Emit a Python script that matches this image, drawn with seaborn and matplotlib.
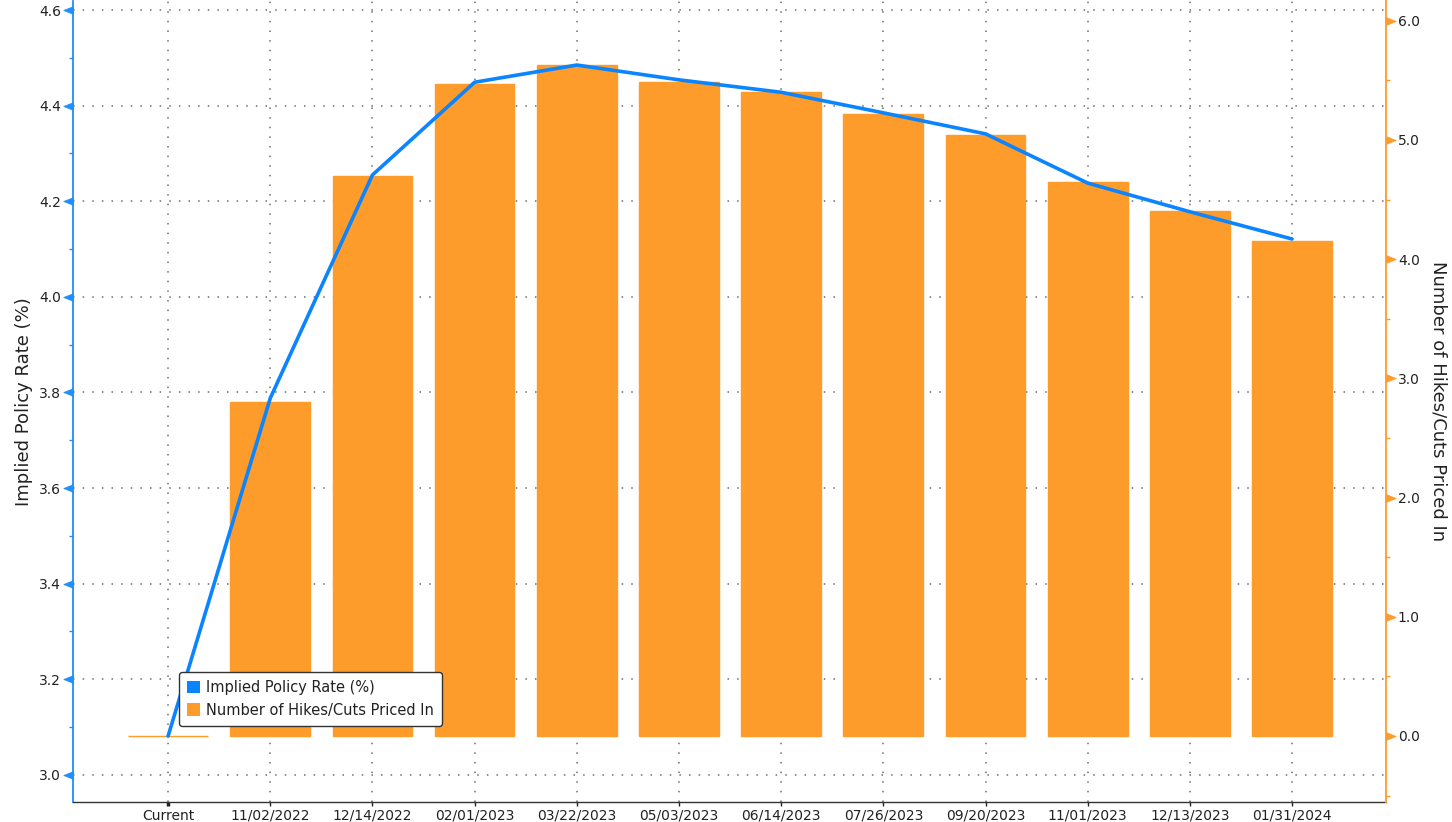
import matplotlib
matplotlib.use('Agg')

import seaborn as sns

from matplotlib import pyplot as plt
from matplotlib.markers import MarkerStyle
from matplotlib.patches import Patch
from matplotlib.path import Path
from matplotlib.ticker import MultipleLocator, FormatStrFormatter

# meeting dates (x categories)
DATES = ['Current', '11/02/2022', '12/14/2022', '02/01/2023', '03/22/2023', '05/03/2023',
         '06/14/2023', '07/26/2023', '09/20/2023', '11/01/2023', '12/13/2023', '01/31/2024']

# implied policy rate (%), left axis
RATE = [3.081, 3.788, 4.255, 4.449, 4.485, 4.454, 4.428, 4.385, 4.341, 4.238, 4.178, 4.121]

# number of hikes/cuts priced in, right axis
HIKES = [0.0, 2.80, 4.70, 5.47, 5.63, 5.49, 5.40, 5.22, 5.04, 4.65, 4.40, 4.15]

RATE_LABEL = 'Implied Policy Rate (%)'
HIKES_LABEL = 'Number of Hikes/Cuts Priced In'

BLUE = '#0B84FF'
BLUE_AXIS = '#1E8FFF'
ORANGE = '#FD9B2B'
TEXT = '#222222'

# triangular tick markers with their base sitting on the spine
ARROW_LEFT = MarkerStyle(Path([(0, 0.4), (-1, 0), (0, -0.4), (0, 0.4)], closed=True))
ARROW_RIGHT = MarkerStyle(Path([(0, 0.4), (1, 0), (0, -0.4), (0, 0.4)], closed=True))


def main():
    sns.set_style('white')
    plt.rcParams['font.family'] = ['DejaVu Sans']

    fig = plt.figure(figsize=(14.52, 8.22), dpi=100)
    rect = [0.0501, 0.0243, 0.9045, 0.9745]

    # bottom axes: left scale + grid
    ax = fig.add_axes(rect)
    # middle axes: bars on right scale
    ax_bar = ax.twinx()
    # top axes: the line on the left scale
    ax_line = fig.add_axes(rect, sharex=ax, sharey=ax)

    sns.barplot(x=DATES, y=HIKES, ax=ax_bar, color=ORANGE, saturation=1, width=0.78,
                edgecolor=ORANGE, linewidth=1, errorbar=None)
    sns.lineplot(x=DATES, y=RATE, ax=ax_line, color=BLUE, linewidth=2.6, sort=False)

    ax.set_xlim(-0.933, 11.92)
    ax.set_ylim(2.943, 4.619)
    ax_bar.set_ylim(-0.554, 6.166)

    ax_line.axis('off')
    ax_line.patch.set_visible(False)
    ax_bar.patch.set_visible(False)

    ######################
    ## LEFT AXIS (RATE) ##
    ######################

    ax.yaxis.set_major_locator(MultipleLocator(0.2))
    ax.yaxis.set_minor_locator(MultipleLocator(0.1))
    ax.yaxis.set_major_formatter(FormatStrFormatter('%.1f'))
    ax.tick_params(axis='y', which='major', length=7.5, width=1, pad=1, color=BLUE_AXIS,
                   labelcolor=TEXT, labelsize=10, left=True)
    ax.tick_params(axis='y', which='minor', length=3, width=1, color=BLUE_AXIS, left=True)
    for t in ax.yaxis.get_major_ticks():
        t.tick1line.set_marker(ARROW_LEFT)
        t.tick1line.set_markersize(14)
        t.tick1line.set_markerfacecolor(BLUE_AXIS)
        t.tick1line.set_markeredgecolor(BLUE_AXIS)
        t.tick1line.set_markeredgewidth(0.5)
    ax.set_ylabel(RATE_LABEL, fontsize=13, color=TEXT, labelpad=4)

    ########################
    ## RIGHT AXIS (HIKES) ##
    ########################

    ax_bar.yaxis.set_major_locator(MultipleLocator(1.0))
    ax_bar.yaxis.set_minor_locator(MultipleLocator(0.5))
    ax_bar.yaxis.set_major_formatter(FormatStrFormatter('%.1f'))
    ax_bar.tick_params(axis='y', which='major', length=7.5, width=1, pad=1, color=ORANGE,
                       labelcolor=TEXT, labelsize=10, right=True)
    ax_bar.tick_params(axis='y', which='minor', length=3, width=1, color=ORANGE, right=True)
    for t in ax_bar.yaxis.get_major_ticks():
        t.tick2line.set_marker(ARROW_RIGHT)
        t.tick2line.set_markersize(14)
        t.tick2line.set_markerfacecolor(ORANGE)
        t.tick2line.set_markeredgecolor(ORANGE)
        t.tick2line.set_markeredgewidth(0.5)
    ax_bar.set_ylabel(HIKES_LABEL, fontsize=13, color=TEXT, rotation=270, va='bottom',
                      labelpad=7)

    ############
    ## X AXIS ##
    ############

    ax.tick_params(axis='x', length=3, width=1, color=TEXT, labelcolor=TEXT, labelsize=10,
                   pad=2, bottom=True)
    ax.xaxis.get_major_ticks()[0].tick1line.set_markeredgewidth(2.5)

    ###########
    ## GRID  ##
    ###########

    ax.grid(True, which='major', axis='both', color='#6E6E6E', linewidth=1.1,
            linestyle=(0, (1, 5.3)))
    ax_bar.grid(False)

    # spines
    for a in (ax, ax_bar):
        a.spines['top'].set_visible(False)
    ax.spines['right'].set_visible(False)
    ax.spines['left'].set_color(BLUE_AXIS)
    ax.spines['left'].set_linewidth(1.3)
    ax.spines['bottom'].set_color('#333333')
    ax.spines['bottom'].set_linewidth(1)
    ax_bar.spines['left'].set_visible(False)
    ax_bar.spines['bottom'].set_visible(False)
    ax_bar.spines['right'].set_color(ORANGE)
    ax_bar.spines['right'].set_linewidth(1.3)

    ############
    ## LEGEND ##
    ############

    handles = [Patch(facecolor=BLUE, edgecolor='none'),
               Patch(facecolor=ORANGE, edgecolor='none')]
    leg = ax_line.legend(handles, [RATE_LABEL, HIKES_LABEL], loc='upper left',
                         bbox_to_anchor=(0.081, 0.162), borderaxespad=0, fontsize=10.5,
                         handlelength=0.9, handleheight=0.9, handletextpad=0.4,
                         labelspacing=0.5, borderpad=0.55, frameon=True, fancybox=True,
                         framealpha=1)
    leg.get_frame().set_edgecolor('#333333')
    leg.get_frame().set_linewidth(1)
    for txt in leg.get_texts():
        txt.set_color(TEXT)

    fig.savefig('out.png', dpi=100, facecolor='white')


if __name__ == '__main__':
    main()
